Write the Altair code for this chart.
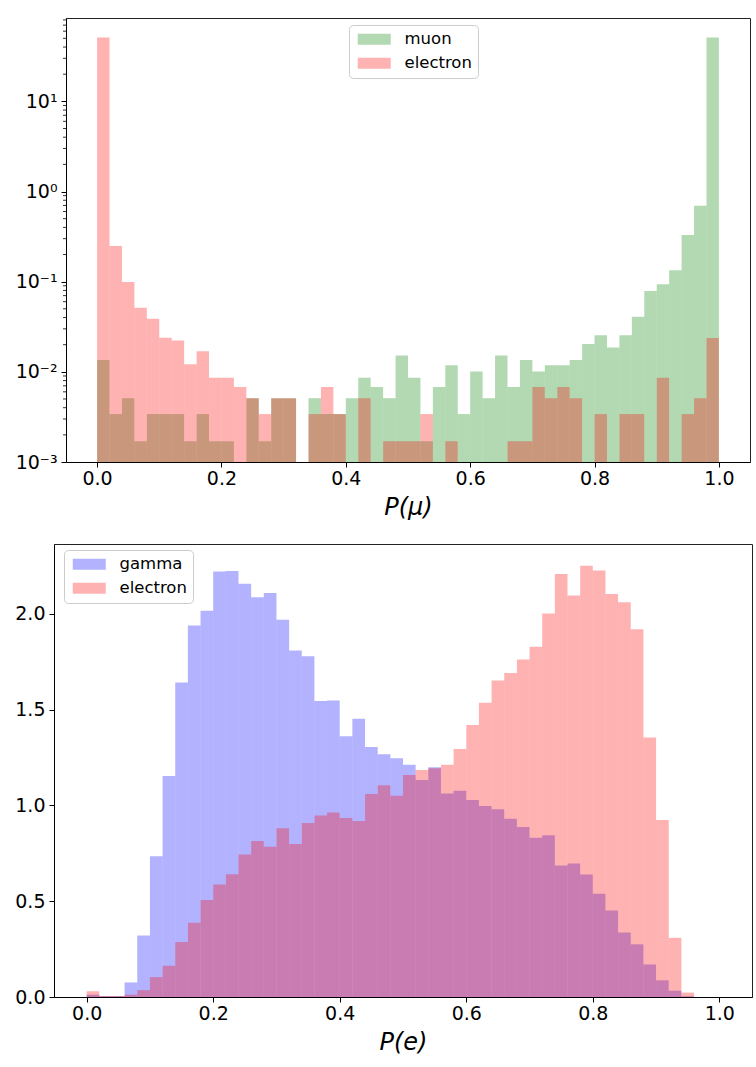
import altair as alt
import pandas as pd

FONT = "DejaVu Sans"
BIN_W = 0.02
bin_left = [round(i * BIN_W, 2) for i in range(50)]

# ---- top panel: P(mu) densities (log scale) ----
muon_top = [0.0135, 0.0034, 0.0051, 0.0017, 0.0034, 0.0034, 0.0034, 0.0017, 0.0034, 0.0017,
            0.0017, 0.0, 0.0051, 0.0017, 0.0051, 0.0051, 0.0, 0.0051, 0.0034, 0.0034,
            0.0051, 0.0086, 0.0068, 0.0051, 0.0152, 0.0086, 0.0017, 0.0068, 0.0118, 0.0034,
            0.0101, 0.0051, 0.0152, 0.0068, 0.0135, 0.0101, 0.0118, 0.0118, 0.0135, 0.0203,
            0.0254, 0.0186, 0.0254, 0.0408, 0.0787, 0.0934, 0.1337, 0.330, 0.693, 51.0]
electron_top = [51.0, 0.249, 0.099, 0.0514, 0.0388, 0.0239, 0.0223, 0.0121, 0.0169, 0.0086,
                0.0086, 0.0068, 0.0051, 0.0034, 0.0051, 0.0051, 0.0, 0.0034, 0.0068, 0.0034,
                0.0, 0.0051, 0.0, 0.0017, 0.0017, 0.0017, 0.0034, 0.0, 0.0017, 0.0,
                0.0, 0.0, 0.0, 0.0017, 0.0017, 0.0068, 0.0051, 0.0068, 0.0051, 0.0,
                0.0034, 0.0, 0.0034, 0.0034, 0.0, 0.0086, 0.0, 0.0034, 0.0051, 0.0237]

# ---- bottom panel: P(e) densities (linear scale) ----
gamma_bot = [0.012, 0.005, 0.005, 0.076, 0.321, 0.735, 1.154, 1.642, 1.939, 2.017,
             2.221, 2.224, 2.158, 2.087, 2.109, 1.969, 1.809, 1.779, 1.545, 1.548,
             1.361, 1.453, 1.305, 1.267, 1.246, 1.213, 1.133, 1.199, 1.062, 1.077,
             1.029, 0.997, 0.980, 0.931, 0.888, 0.832, 0.844, 0.686, 0.697, 0.639,
             0.539, 0.452, 0.337, 0.275, 0.170, 0.087, 0.033, 0.004, 0.0, 0.0]
electron_bot = [0.030, 0.005, 0.005, 0.012, 0.036, 0.104, 0.163, 0.287, 0.387, 0.506,
                0.587, 0.641, 0.744, 0.815, 0.784, 0.881, 0.799, 0.909, 0.947, 0.963,
                0.935, 0.919, 1.060, 1.105, 1.051, 1.159, 1.185, 1.194, 1.213, 1.295,
                1.420, 1.536, 1.652, 1.692, 1.762, 1.828, 2.002, 2.209, 2.096, 2.252,
                2.226, 2.104, 2.061, 1.920, 1.355, 0.924, 0.309, 0.023, 0.0, 0.0]

x_ticks = [0.0, 0.2, 0.4, 0.6, 0.8, 1.0]
log_ticks = [0.001, 0.01, 0.1, 1.0, 10.0]
minor_ticks = [m * 10 ** e for e in (-3, -2, -1, 0, 1) for m in range(2, 10) if m * 10 ** e < 84]
lin_ticks = [0.0, 0.5, 1.0, 1.5, 2.0]


def long_frame(series):
    rows = []
    for name, vals in series:
        for x0, v in zip(bin_left, vals):
            if v > 0:
                rows.append({"series": name, "x0": x0, "x1": round(x0 + BIN_W, 2), "density": v})
    return pd.DataFrame(rows)


top_df = long_frame([("muon", muon_top), ("electron", electron_top)])
bot_df = long_frame([("gamma", gamma_bot), ("electron", electron_bot)])
minor_df = pd.DataFrame({"v": minor_ticks})

axis_common = dict(labelFont=FONT, labelFontSize=19, labelColor="black", tickColor="black",
                   domainColor="black", tickSize=5, grid=False, titleFont=FONT,
                   titleFontSize=24, titleFontStyle="italic", titleFontWeight="normal",
                   titleColor="black")

legend_common = dict(orient="none", title=None, labelFont=FONT, labelFontSize=16.5,
                     labelColor="black", fillColor="white", strokeColor="#cccccc",
                     cornerRadius=4, padding=6, symbolType="M-3,-1H3V1H-3Z",
                     symbolSize=121, symbolOffset=11, symbolOpacity=0.3, symbolStrokeWidth=0,
                     labelOffset=22, rowPadding=7)

# top chart
xs_top = alt.Scale(domain=[-0.05, 1.05], nice=False, zero=False)
ys_top = alt.Scale(type="log", domain=[0.001, 84], nice=False, clamp=True)

top_bars = alt.Chart(top_df).mark_bar(opacity=0.3, strokeWidth=0).encode(
    x=alt.X("x0:Q", scale=xs_top,
            axis=alt.Axis(values=x_ticks, format=".1f", title="P(μ)", labelPadding=2,
                          titlePadding=7, **axis_common)),
    x2="x1:Q",
    y=alt.Y("density:Q", scale=ys_top, stack=None,
            axis=alt.Axis(values=log_ticks, title=None, labelPadding=4,
                          labelExpr="datum.value > 5 ? '10¹' : datum.value > 0.5 ? '10⁰' : datum.value > 0.05 ? '10⁻¹' : datum.value > 0.005 ? '10⁻²' : '10⁻³'",
                          **axis_common)),
    y2=alt.datum(0.001),
    color=alt.Color("series:N", sort=["muon", "electron"],
                    scale=alt.Scale(domain=["muon", "electron"], range=["green", "red"]),
                    legend=alt.Legend(legendX=339, legendY=7, **legend_common)),
)

top_minor = alt.Chart(minor_df).mark_rule(color="black", strokeWidth=0.8).encode(
    y=alt.Y("v:Q", scale=ys_top),
    x=alt.value(-3),
    x2=alt.value(0),
)

top = alt.layer(top_bars, top_minor).properties(width=684, height=444)

# bottom chart
xs_bot = alt.Scale(domain=[-0.0516, 1.0516], nice=False, zero=False)
ys_bot = alt.Scale(domain=[0, 2.365], nice=False)

bottom = alt.Chart(bot_df).mark_bar(opacity=0.3, strokeWidth=0).encode(
    x=alt.X("x0:Q", scale=xs_bot,
            axis=alt.Axis(values=x_ticks, format=".1f", title="P(e)", labelPadding=2,
                          titlePadding=7, **axis_common)),
    x2="x1:Q",
    y=alt.Y("density:Q", scale=ys_bot, stack=None,
            axis=alt.Axis(values=lin_ticks, format=".1f", title=None, labelPadding=4,
                          **axis_common)),
    y2=alt.datum(0),
    color=alt.Color("series:N", sort=["gamma", "electron"],
                    scale=alt.Scale(domain=["gamma", "electron"], range=["blue", "red"]),
                    legend=alt.Legend(legendX=54, legendY=6, **legend_common)),
).properties(width=698, height=453)


def spacer():
    # empty 1px cell so that each panel is placed by the width of its own tick labels
    return alt.Chart(pd.DataFrame({"s": [0]})).mark_point(opacity=0).properties(
        width=1, height=1, view=alt.ViewBackground(strokeOpacity=0, strokeWidth=0)
    )


top_row = alt.hconcat(spacer(), top, spacing=0)
bottom_row = alt.hconcat(spacer(), bottom, spacing=0)

chart = alt.vconcat(top_row, bottom_row, spacing=21).resolve_scale(
    color="independent", x="independent", y="independent"
).properties(
    padding={"left": 7, "top": 15, "right": 3, "bottom": 0},
    background="white",
).configure_view(stroke="#222222", strokeWidth=1)

chart.save("out.html", embed_options={"renderer": "svg", "actions": False})
